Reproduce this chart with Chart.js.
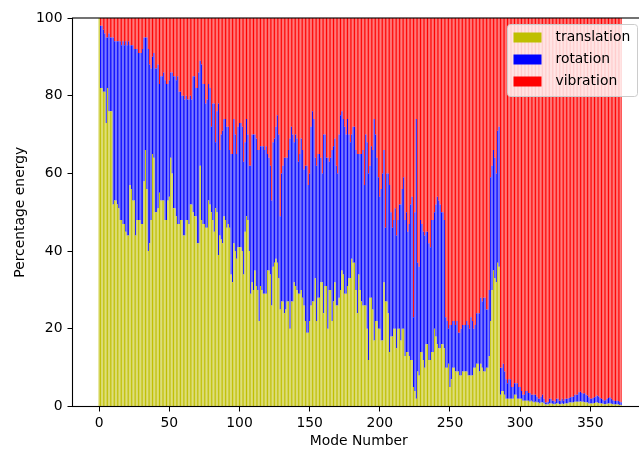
<!DOCTYPE html>
<html>
<head>
<meta charset="utf-8">
<script src="https://cdn.jsdelivr.net/npm/chart.js@4.4.1/dist/chart.umd.min.js"></script>
<style>
  html, body { margin: 0; padding: 0; background: #fff; overflow: hidden; }
  #wrap { width: 680px; height: 450px; }
</style>
</head>
<body>
<div id="wrap"><canvas id="grafico" width="680" height="450"></canvas></div>
<script>
// percentage of the energy of each normal mode (modes 0..372)
const translation = [
  100,82,82,81,81,73,82,76,76,76,
  52,53,53,52,51,48,48,47,47,45,
  44,44,57,56,53,53,44,48,48,48,
  47,47,58,66,56,40,42,48,65,64,
  50,50,51,55,53,53,53,48,48,53,
  54,64,60,51,51,49,47,47,48,48,
  44,44,48,48,47,52,52,50,49,49,
  42,42,62,48,47,47,46,46,53,52,
  50,48,45,51,50,39,44,43,42,49,
  48,46,47,46,34,32,42,40,38,41,
  41,41,40,34,45,49,48,40,29,32,
  30,35,31,30,22,31,30,29,29,29,
  35,35,34,26,36,37,38,37,33,25,
  27,27,24,25,27,27,20,27,27,32,
  31,30,29,29,30,28,26,22,19,19,
  22,26,27,27,33,22,28,28,32,32,
  24,31,31,20,30,30,22,27,32,26,
  26,28,30,35,34,29,29,31,33,33,
  38,37,37,30,24,34,30,27,26,26,
  26,20,12,28,28,25,17,22,22,20,
  20,17,17,32,27,27,24,14,18,18,
  20,20,15,20,20,17,20,20,13,14,
  14,13,12,12,5,4,2,9,8,14,
  14,12,10,16,16,12,12,14,14,20,
  18,16,15,15,16,16,15,10,10,11,
  5,7,10,10,9,9,9,8,8,9,
  9,9,9,8,8,8,8,10,10,11,
  11,9,11,10,9,9,10,10,13,22,
  30,35,33,32,37,36,3,4,4,3,
  2,2,2,2,2,2,3,3,2,2,
  2,2,1.5,1.5,1.5,1.5,1.5,1.2,1.5,1.2,
  1,1.2,1,1,0.8,1,1,0.8,0.5,0.5,
  0.5,0.8,0.8,0.7,0.6,0.6,0.8,0.8,0.6,0.6,
  0.8,0.6,0.8,0.8,0.8,1,1,1,1,1.2,
  1.2,1.2,1.2,1.3,1.2,1.2,1.1,1,1,0.8,
  0.8,0.8,0.8,0.9,1,1,0.9,0.8,0.8,0.7,
  0.6,0.6,0.7,0.8,0.8,0.7,0.6,0.5,0.5,0.5,
  0.5,0.4,0.4
];

const rotation = [
  0,16,16,16,15,22,13,20,19,19,
  43,41,41,42,43,46,45,47,46,49,
  49,50,36,37,40,39,48,44,43,43,
  44,45,37,29,39,52,46,39,25,27,
  37,37,37,28,32,32,33,36,35,30,
  30,22,26,34,34,35,38,34,33,32,
  36,35,32,31,32,28,27,35,36,33,
  40,44,27,40,36,36,32,33,30,30,
  22,30,33,17,26,39,22,27,29,25,
  26,26,25,20,31,33,32,30,27,31,
  32,32,32,29,23,25,22,22,33,38,
  40,35,38,36,44,36,37,38,37,38,
  30,29,28,27,32,32,34,38,37,24,
  33,35,40,39,37,39,49,45,43,36,
  39,39,34,36,39,38,35,40,43,38,
  38,46,49,47,31,40,37,37,32,28,
  46,39,33,44,33,34,44,40,37,36,
  34,42,45,41,40,43,41,43,37,35,
  32,35,35,36,41,31,35,38,40,31,
  44,48,48,34,39,41,57,48,42,39,
  34,39,43,34,19,33,36,43,32,28,
  28,31,29,28,32,35,36,39,35,36,
  31,34,40,42,18,46,72,28,28,34,
  33,33,34,29,29,30,29,34,34,30,
  34,38,38,37,34,34,33,13,12,9,
  16,14,12,12,12,13,10,11,12,12,
  12,12,13,13,12,15,14,10,11,13,
  13,15,17,17,19,19,15,15,17,37,
  32,31,31,28,34,36,7,6,7,6,
  5,4,5,5,3,3,3,3,4,3,
  3,2,1.5,1.5,2.5,2.5,2,2.3,1.5,1.8,
  2,1.8,1.5,1,1.2,1.5,2,1.2,0.5,0.5,
  0.7,1.2,1.2,0.8,0.9,0.6,1.2,1.2,0.9,0.9,
  1.2,0.9,1.2,1.2,1.2,1.2,1.4,1.5,1.5,1.8,
  1.8,1.8,2.5,2.5,2.3,2.1,2.3,2,1.8,1.6,
  1.2,1.2,1.4,1.5,1.6,1.8,1.7,1.4,1.2,1.1,
  0.9,1,1.3,1.4,1.6,1.3,1,1,0.9,1,
  0.9,0.8,0.7
];

const vibration = [
  0,2,2,3,4,5,5,4,5,5,
  5,6,6,6,6,6,7,6,7,6,
  7,6,7,7,7,8,8,8,9,9,
  9,8,5,5,5,8,12,13,10,9,
  13,13,12,17,15,15,14,16,17,17,
  16,14,14,15,15,16,15,19,19,20,
  20,21,20,21,21,20,21,15,15,18,
  18,14,11,12,17,17,22,21,17,18,
  28,22,22,32,24,22,34,30,29,26,
  26,28,28,34,35,35,26,30,35,28,
  27,27,28,37,32,26,30,38,38,30,
  30,30,31,34,34,33,33,33,34,33,
  35,36,38,47,32,31,28,25,30,51,
  40,38,36,36,36,34,31,28,30,32,
  30,31,37,35,31,34,39,38,38,43,
  40,28,24,26,36,38,35,35,36,40,
  30,30,36,36,37,36,34,33,31,38,
  40,30,25,24,26,28,30,26,30,32,
  30,28,28,34,35,35,35,35,34,43,
  30,32,40,38,33,34,26,30,36,41,
  46,44,40,34,54,40,40,43,50,54,
  52,49,56,52,48,48,44,41,52,50,
  55,53,48,46,77,50,26,63,64,52,
  53,55,56,55,55,58,59,52,52,50,
  48,46,47,48,50,50,52,77,78,80,
  79,79,78,78,79,78,81,81,80,79,
  79,79,78,79,80,77,78,80,79,76,
  76,76,72,73,72,72,75,75,70,41,
  38,34,36,40,29,28,90,90,89,91,
  93,94,93,93,95,95,94,94,94,95,
  95,96,97,97,96,96,96.5,96.5,97,97,
  97,97,97.5,98,98,97.5,97,98,99,99,
  98.8,98,98,98.5,98.5,98.8,98,98,98.5,98.5,
  98,98.5,98,98,98,97.8,97.6,97.5,97.5,97,
  97,97,96.3,96.2,96.5,96.7,96.6,97,97.2,97.6,
  98,98,97.8,97.6,97.4,97.2,97.4,97.8,98,98.2,
  98.5,98.4,98,97.8,97.6,98,98.4,98.5,98.6,98.5,
  98.6,98.8,98.9
];

const modos = translation.map((_, i) => i);
const xTicks = [0, 50, 100, 150, 200, 250, 300, 350];
const yTicks = [0, 20, 40, 60, 80, 100];

const fuente = { family: 'DejaVu Sans', size: 13.9 };

// marco del eje (las cuatro lineas) y leyenda estilo matplotlib
const marcoYLeyenda = {
  id: 'marcoYLeyenda',
  afterDraw(chart) {
    const ctx = chart.ctx;
    const a = chart.chartArea;
    ctx.save();
    ctx.strokeStyle = '#000';
    ctx.lineWidth = 1.1;
    ctx.strokeRect(a.left, a.top, a.right - a.left, a.bottom - a.top);

    const x = 507.5, y = 24.5, w = 130, h = 72;
    ctx.fillStyle = 'rgba(255,255,255,0.8)';
    ctx.strokeStyle = '#cccccc';
    ctx.lineWidth = 1;
    ctx.beginPath();
    ctx.roundRect(x, y, w, h, 3);
    ctx.fill();
    ctx.stroke();

    ctx.font = '13.9px "DejaVu Sans"';
    ctx.textBaseline = 'middle';
    chart.data.datasets.forEach((ds, i) => {
      const cy = y + 13 + i * 22;
      ctx.fillStyle = ds.backgroundColor;
      ctx.fillRect(x + 6, cy - 5, 28, 10);
      ctx.fillStyle = '#000';
      ctx.fillText(ds.label, x + 48, cy);
    });
    ctx.restore();
  }
};

const ctx = document.getElementById('grafico').getContext('2d');
const myChart = new Chart(ctx, {
  type: 'bar',
  data: {
    labels: modos,
    datasets: [
      { label: 'translation', data: translation, backgroundColor: '#bfbf00' },
      { label: 'rotation', data: rotation, backgroundColor: '#0000ff' },
      { label: 'vibration', data: vibration, backgroundColor: '#ff0000' }
    ]
  },
  options: {
    responsive: false,
    animation: false,
    devicePixelRatio: 1,
    layout: { padding: { left: 0, top: 18, right: 35, bottom: 0 } },
    datasets: {
      bar: {
        barPercentage: 0.72,
        categoryPercentage: 1,
        borderWidth: 0,
        inflateAmount: 0
      }
    },
    plugins: {
      legend: { display: false },
      tooltip: { enabled: false }
    },
    scales: {
      x: {
        type: 'linear',
        stacked: true,
        offset: false,
        min: -19,
        max: 389,
        afterBuildTicks: s => { s.ticks = xTicks.map(v => ({ value: v })); },
        afterFit: s => { s.height = 43.5; },
        grid: { drawOnChartArea: false, offset: false, tickLength: 5, color: '#000', tickWidth: 1 },
        border: { display: false },
        ticks: { font: fuente, color: '#000', padding: 4, maxRotation: 0 },
        title: { display: true, text: 'Mode Number', font: fuente, color: '#000', padding: { top: 1, bottom: 0 } }
      },
      y: {
        stacked: true,
        min: 0,
        max: 100,
        afterBuildTicks: s => { s.ticks = yTicks.map(v => ({ value: v })); },
        afterFit: s => { s.width = 72.5; },
        grid: { drawOnChartArea: false, tickLength: 5, color: '#000', tickWidth: 1 },
        border: { display: false },
        ticks: { font: fuente, color: '#000', padding: 5 },
        title: { display: true, text: 'Percentage energy', font: fuente, color: '#000', padding: { top: 12, bottom: 0 } }
      }
    }
  },
  plugins: [marcoYLeyenda]
});
</script>
</body>
</html>
